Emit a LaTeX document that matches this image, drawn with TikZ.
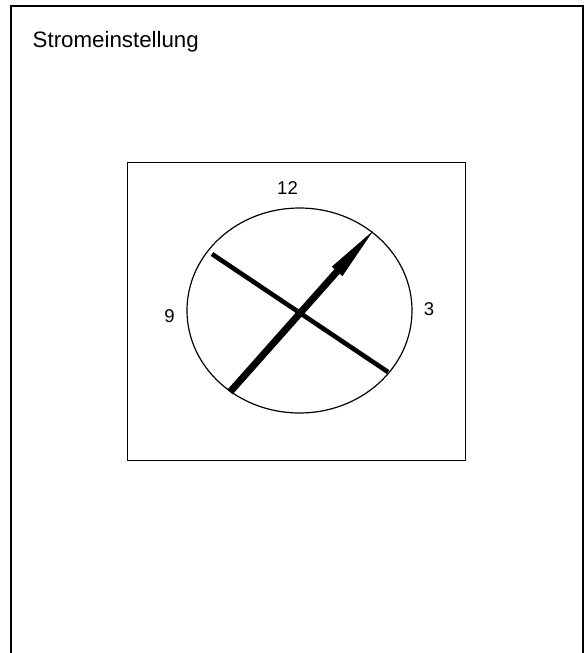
\documentclass[tikz,border=0pt]{standalone}
\usepackage{fontspec}
\setmainfont{Liberation Sans}
\usetikzlibrary{arrows.meta,shapes.geometric}
\tikzset{
  frame/.style={draw=black,line width=2pt},
  panel/.style={rectangle,draw=black,line width=1pt,minimum width=338pt,
    minimum height=298pt,inner sep=0pt},
  dial/.style={ellipse,draw=black,line width=1.2pt,minimum width=225pt,
    minimum height=205pt,inner sep=0pt},
  hour/.style={font=\fontsize{18.5}{21}\selectfont,inner sep=0pt},
  title/.style={font=\fontsize{22.3}{25}\selectfont,inner sep=0pt,
    anchor=base west},
  bar/.style={line width=4.6pt},
  needle/.style={line width=7pt,
    -{Triangle[length=54pt,width=14pt,line width=0.4pt]}}
}

\begin{document}
\begin{tikzpicture}[x=1pt,y=-1pt]
  \useasboundingbox (0,0) rectangle (587,653);
  % outer frame, open at the bottom
  \draw[frame] (11,653) |- (583,6) -- (583,653);
  \node[title] (head) at (32.5,47) {Stromeinstellung};
  \node[panel] (box) at (296,311) {};
  \node[dial] (dial) at (299.5,310.5) {};
  \node[hour] (h12) at (287.5,188.5) {12};
  \node[hour] (h9) at (169.5,316) {9};
  \node[hour] (h3) at (429,309) {3};
  % needles
  \coordinate (bar a) at (212,254);
  \coordinate (bar b) at (388,372);
  \coordinate (tail) at (230,392);
  \coordinate (tip) at (373,231);
  \draw[bar] (bar a) -- (bar b);
  \draw[needle] (tail) -- (tip);
\end{tikzpicture}
\end{document}
